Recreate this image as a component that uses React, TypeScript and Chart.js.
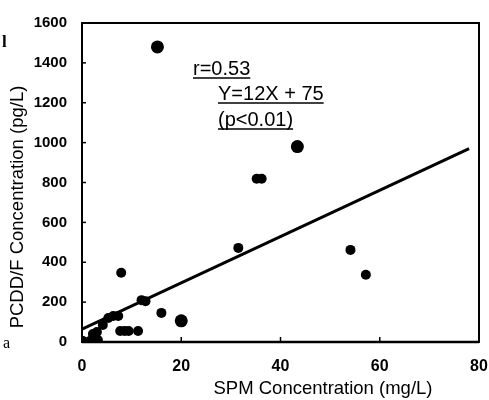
import React, { useEffect, useRef } from "react";
import { Chart, registerables } from "chart.js";

Chart.register(...registerables);

// ---- data ----
const xTickValues = [0, 20, 40, 60, 80];
const yTickValues = [0, 200, 400, 600, 800, 1000, 1200, 1400, 1600];

const sampleX = [0.2, 1.6, 2.4, 3.2, 2.2, 3.0, 4.2, 5.3, 6.3, 7.3, 7.7, 8.6, 9.4, 11.3, 7.9, 12.0, 12.8, 16.0, 31.5, 35.2, 36.2, 54.1, 57.2];
const sampleY = [5, 5, 10, 10, 40, 50, 85, 120, 130, 130, 55, 55, 55, 55, 347, 210, 205, 146, 472, 819, 819, 462, 337];

const largeX = [15.2, 43.4, 20.0];
const largeY = [1480, 980, 106];

const fitX = [0, 78];
const fitY = [65, 970];

const statLines = ["r=0.53", "Y=12X + 75", "(p<0.01)"];
const xTitle = "SPM Concentration (mg/L)";
const yTitle = "PCDD/F Concentration (pg/L)";
const marginNotes = ["l", "a"];

const FONT = '"Liberation Sans", Arial, Helvetica, sans-serif';

const toPoints = (xs: number[], ys: number[]) => xs.map((x, i) => ({ x, y: ys[i] }));

const decorPlugin = {
  id: "decor",
  afterDraw(chart: any) {
    const { ctx, chartArea: a, scales } = chart;
    const xs = scales.x;
    const ys = scales.y;
    ctx.save();
    ctx.strokeStyle = "#000";
    ctx.fillStyle = "#000";
    // frame
    ctx.lineWidth = 2;
    ctx.strokeRect(a.left, a.top, a.right - a.left, a.bottom - a.top);
    ctx.lineWidth = 2.5;
    ctx.beginPath();
    ctx.moveTo(a.left, a.bottom);
    ctx.lineTo(a.right, a.bottom);
    ctx.stroke();
    // inward ticks
    ctx.lineWidth = 1.5;
    yTickValues.forEach((v) => {
      const py = ys.getPixelForValue(v);
      ctx.beginPath();
      ctx.moveTo(a.left, py);
      ctx.lineTo(a.left + 4, py);
      ctx.stroke();
    });
    xTickValues.forEach((v) => {
      const px = xs.getPixelForValue(v);
      ctx.beginPath();
      ctx.moveTo(px, a.bottom);
      ctx.lineTo(px, a.bottom - 5);
      ctx.stroke();
    });
    // axis titles
    ctx.font = `18.5px ${FONT}`;
    ctx.textAlign = "center";
    ctx.textBaseline = "middle";
    ctx.fillText(xTitle, a.left + 241, 389);
    ctx.save();
    ctx.translate(18, 207);
    ctx.rotate(-Math.PI / 2);
    ctx.fillText(yTitle, 0, 0);
    ctx.restore();
    // stats annotation
    ctx.font = `20px ${FONT}`;
    ctx.textAlign = "left";
    ctx.textBaseline = "alphabetic";
    const lefts = [a.left + 111, a.left + 136, a.left + 136];
    const bases = [75, 100, 126];
    statLines.forEach((t, i) => {
      ctx.fillText(t, lefts[i], bases[i]);
      const w = ctx.measureText(t).width;
      ctx.lineWidth = 1.5;
      ctx.beginPath();
      ctx.moveTo(lefts[i], bases[i] + 3);
      ctx.lineTo(lefts[i] + w, bases[i] + 3);
      ctx.stroke();
    });
    // stray margin letters from the scan
    ctx.font = `bold 17px "Liberation Serif", serif`;
    ctx.fillText(marginNotes[0], 2, 47);
    ctx.font = `16px "Liberation Serif", serif`;
    ctx.fillText(marginNotes[1], 3, 348);
    ctx.restore();
  },
};

export default function App() {
  const ref = useRef<HTMLCanvasElement | null>(null);

  useEffect(() => {
    document.body.style.margin = "0";
    if (!ref.current) return;
    const chart = new Chart(ref.current, {
      type: "scatter",
      data: {
        datasets: [
          {
            label: "samples",
            data: toPoints(sampleX, sampleY),
            pointRadius: 5,
            pointBackgroundColor: "#000",
            pointBorderWidth: 0,
            borderWidth: 0,
          },
          {
            label: "large samples",
            data: toPoints(largeX, largeY),
            pointRadius: 6.5,
            pointBackgroundColor: "#000",
            pointBorderWidth: 0,
            borderWidth: 0,
          },
          {
            type: "line",
            label: "fit",
            data: toPoints(fitX, fitY),
            borderColor: "#000",
            borderWidth: 3,
            pointRadius: 0,
            showLine: true,
            fill: false,
          } as any,
        ],
      },
      options: {
        responsive: false,
        animation: false,
        layout: { padding: { top: 23, right: 10, left: 0, bottom: 0 } },
        plugins: {
          legend: { display: false },
          tooltip: { enabled: false },
        },
        scales: {
          x: {
            type: "linear",
            min: 0,
            max: 80,
            grid: { display: false, drawTicks: false },
            border: { display: false },
            ticks: {
              stepSize: 20,
              color: "#000",
              padding: 15,
              font: { family: FONT, size: 16, weight: "bold" },
              callback: (v: any) => String(v),
            },
            afterFit: (s: any) => {
              s.height = 58;
              s.paddingLeft = 0;
              s.paddingRight = 0;
            },
          },
          y: {
            type: "linear",
            min: 0,
            max: 1600,
            grid: { display: false, drawTicks: false },
            border: { display: false },
            ticks: {
              stepSize: 200,
              color: "#000",
              padding: 15,
              font: { family: FONT, size: 15, weight: "bold" },
              callback: (v: any) => String(v),
            },
            afterFit: (s: any) => {
              s.width = 82;
              s.paddingTop = 0;
              s.paddingBottom = 0;
            },
          },
        },
      } as any,
      plugins: [decorPlugin],
    });
    return () => chart.destroy();
  }, []);

  return (
    <div style={{ width: 489, height: 400 }}>
      <canvas ref={ref} width={489} height={400} style={{ display: "block" }} />
    </div>
  );
}
